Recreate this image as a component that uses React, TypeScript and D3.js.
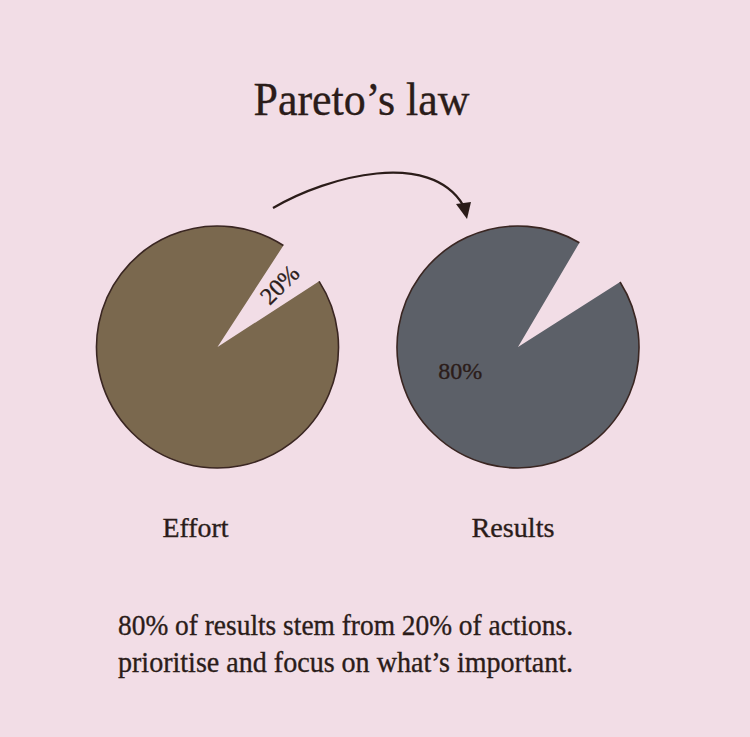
import React from "react";
import * as d3 from "d3";

// ---- data ----
const categories = ["Effort", "Results"];
const sliceLabels = ["20%", "80%"];
// share of the circle cut out as drawn (percent) and where the cut begins (degrees clockwise from 12 o'clock)
const wedgeShare = [6.7, 7.5];
const wedgeStartDeg = [33, 30.5];
const pieColors = ["#7a684e", "#5c6068"];
const titleText = "Pareto\u2019s law";
const captionLines = [
  "80% of results stem from 20% of actions.",
  "prioritise and focus on what\u2019s important.",
];

const W = 750;
const H = 737;
const BG = "#f2dde6";
const INK = "#2b1c19";
const FONT = "'Liberation Serif', 'DejaVu Serif', serif";

export default function App() {
  const r = 121;
  const cy = 347;
  const x = d3.scalePoint<string>().domain(categories).range([217.5, 518]);
  const rad = (deg: number) => (deg * Math.PI) / 180;

  const arc = d3.arc<d3.PieArcDatum<number>>().innerRadius(0).outerRadius(r);
  const rim = d3.arc<d3.PieArcDatum<number>>().innerRadius(r).outerRadius(r);

  const pies = categories.map((c, i) => {
    const gen = d3
      .pie<number>()
      .sort(null)
      .startAngle(rad(wedgeStartDeg[i]))
      .endAngle(rad(wedgeStartDeg[i]) + 2 * Math.PI);
    return gen([wedgeShare[i], 100 - wedgeShare[i]]);
  });

  const lx = x(categories[0])!;
  const rx = x(categories[1])!;

  // 20% label: along the bisector of the cut-out wedge
  const w0 = pies[0][0];
  const bis = (w0.startAngle + w0.endAngle) / 2;
  const l20x = lx + 88 * Math.sin(bis);
  const l20y = cy - 88 * Math.cos(bis);
  const l20rot = (bis * 180) / Math.PI - 90;

  // 80% label: inside the body of the results pie
  const a80 = rad(236);
  const l80x = rx + 60 * Math.sin(a80);
  const l80y = cy - 60 * Math.cos(a80);

  // arrow
  const p = d3.path();
  p.moveTo(lx + 55.5, cy - 139);
  p.bezierCurveTo(lx + 112, cy - 172, rx - 88, cy - 197, rx - 55, cy - 142);
  const tip = [rx - 51, cy - 128];
  const head = `M${rx - 62},${cy - 143} L${rx - 47},${cy - 145} L${tip[0]},${tip[1]} Z`;

  const textStroke = { stroke: INK, strokeWidth: 0.35 };

  return (
    <svg
      width={W}
      height={H}
      style={{ position: "absolute", left: 0, top: 0, display: "block" }}
      fontFamily={FONT}
    >
      <rect width={W} height={H} fill={BG} />
      <text
        x={361.5}
        y={115}
        textAnchor="middle"
        fontSize={46}
        fill={INK}
        {...textStroke}
        textLength={216}
        lengthAdjust="spacingAndGlyphs"
      >
        {titleText}
      </text>

      <path d={p.toString()} fill="none" stroke={INK} strokeWidth={2.2} />
      <path d={head} fill={INK} />

      {categories.map((c, i) => {
        const cx = x(c)!;
        const body = pies[i][1];
        return (
          <g key={c} transform={`translate(${cx},${cy})`}>
            <path d={arc(body)!} fill={pieColors[i]} />
            <path d={rim(body)!} fill="none" stroke="#3a2622" strokeWidth={1.6} />
          </g>
        );
      })}

      <text
        x={l20x}
        y={l20y}
        transform={`rotate(${l20rot},${l20x},${l20y})`}
        textAnchor="middle"
        dominantBaseline="central"
        fontSize={24}
        fill={INK}
        {...textStroke}
      >
        {sliceLabels[0]}
      </text>
      <text
        x={l80x - 8}
        y={l80y - 10}
        textAnchor="middle"
        dominantBaseline="central"
        fontSize={24}
        fill={INK}
        {...textStroke}
      >
        {sliceLabels[1]}
      </text>

      <text x={lx - 22} y={537} textAnchor="middle" fontSize={27} fill={INK} {...textStroke} textLength={66} lengthAdjust="spacingAndGlyphs">
        {categories[0]}
      </text>
      <text x={rx - 5} y={537} textAnchor="middle" fontSize={27} fill={INK} {...textStroke} textLength={83} lengthAdjust="spacingAndGlyphs">
        {categories[1]}
      </text>

      {captionLines.map((line, i) => (
        <text
          key={i}
          x={118}
          y={635 + i * 37}
          fontSize={30}
          fill={INK}
          {...textStroke}
          textLength={455}
          lengthAdjust="spacingAndGlyphs"
        >
          {line}
        </text>
      ))}
    </svg>
  );
}
